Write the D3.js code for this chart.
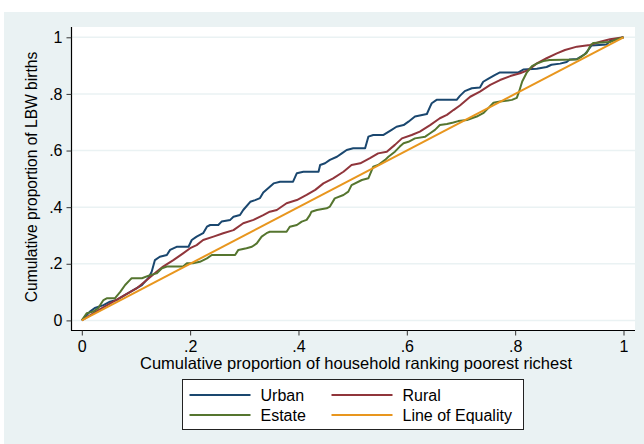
<!DOCTYPE html>
<html>
<head>
<meta charset="utf-8">
<script src="https://cdn.jsdelivr.net/npm/d3@7"></script>
<style>
  html, body { margin: 0; padding: 0; background: #ffffff; }
  svg { display: block; font-family: "Liberation Sans", Arial, sans-serif; }
</style>
</head>
<body>
<svg id="chart" width="644" height="444"></svg>
<script>
// Concentration curves: cumulative share of LBW births vs. cumulative household rank
const urbanCurve = [
  [0,0],[0.015,0.031],[0.024,0.044],[0.040,0.054],[0.052,0.066],[0.064,0.072],[0.080,0.090],
  [0.095,0.107],[0.111,0.125],[0.123,0.150],[0.129,0.172],[0.135,0.213],[0.144,0.225],[0.157,0.231],
  [0.163,0.249],[0.175,0.260],[0.197,0.260],[0.203,0.284],[0.212,0.296],[0.224,0.308],[0.231,0.331],
  [0.237,0.337],[0.252,0.337],[0.258,0.349],[0.274,0.355],[0.280,0.366],[0.292,0.372],[0.298,0.390],
  [0.311,0.419],[0.320,0.425],[0.329,0.432],[0.335,0.452],[0.344,0.467],[0.354,0.484],[0.366,0.490],
  [0.390,0.490],[0.397,0.520],[0.409,0.525],[0.437,0.525],[0.440,0.549],[0.449,0.555],[0.458,0.567],
  [0.471,0.578],[0.480,0.590],[0.489,0.602],[0.501,0.608],[0.523,0.608],[0.529,0.649],[0.538,0.655],
  [0.557,0.655],[0.572,0.673],[0.581,0.684],[0.594,0.690],[0.603,0.702],[0.615,0.720],[0.637,0.729],
  [0.643,0.755],[0.646,0.767],[0.655,0.779],[0.692,0.779],[0.698,0.793],[0.707,0.810],[0.720,0.820],
  [0.735,0.823],[0.741,0.843],[0.750,0.853],[0.763,0.867],[0.772,0.876],[0.806,0.876],[0.815,0.886],
  [0.840,0.889],[0.858,0.895],[0.867,0.903],[0.883,0.907],[0.895,0.913],[0.901,0.922],[0.914,0.923],
  [0.923,0.934],[0.929,0.941],[0.935,0.955],[0.941,0.971],[0.969,0.975],[0.975,0.987],[0.987,0.992],
  [1,1]
];

const ruralCurve = [
  [0,0],[0.034,0.040],[0.080,0.090],[0.101,0.113],[0.120,0.143],[0.138,0.172],[0.150,0.190],
  [0.169,0.213],[0.187,0.237],[0.200,0.255],[0.212,0.266],[0.224,0.284],[0.243,0.296],[0.261,0.308],
  [0.280,0.319],[0.298,0.343],[0.317,0.355],[0.335,0.372],[0.347,0.384],[0.360,0.390],[0.378,0.414],
  [0.397,0.425],[0.415,0.443],[0.431,0.461],[0.446,0.484],[0.464,0.502],[0.483,0.525],[0.498,0.549],
  [0.514,0.555],[0.532,0.573],[0.547,0.590],[0.563,0.596],[0.578,0.620],[0.591,0.643],[0.609,0.655],
  [0.624,0.667],[0.643,0.690],[0.661,0.714],[0.674,0.726],[0.686,0.743],[0.698,0.759],[0.717,0.790],
  [0.735,0.808],[0.754,0.832],[0.772,0.849],[0.791,0.863],[0.809,0.873],[0.824,0.884],[0.840,0.908],
  [0.858,0.926],[0.877,0.943],[0.892,0.955],[0.914,0.967],[0.938,0.973],[0.957,0.984],[0.975,0.993],
  [1,1]
];

const estateCurve = [
  [0,0],[0.009,0.025],[0.021,0.031],[0.030,0.043],[0.040,0.072],[0.046,0.078],[0.061,0.078],
  [0.071,0.101],[0.080,0.125],[0.089,0.143],[0.092,0.149],[0.111,0.149],[0.126,0.160],[0.138,0.166],
  [0.148,0.184],[0.157,0.190],[0.187,0.190],[0.194,0.202],[0.205,0.202],[0.218,0.207],[0.231,0.219],
  [0.240,0.231],[0.283,0.231],[0.289,0.249],[0.304,0.255],[0.314,0.260],[0.323,0.272],[0.332,0.296],
  [0.341,0.308],[0.347,0.313],[0.378,0.313],[0.384,0.331],[0.397,0.337],[0.406,0.349],[0.415,0.355],
  [0.421,0.372],[0.424,0.384],[0.434,0.390],[0.452,0.396],[0.458,0.402],[0.467,0.431],[0.483,0.443],
  [0.492,0.455],[0.498,0.478],[0.517,0.496],[0.529,0.502],[0.538,0.543],[0.547,0.549],[0.560,0.567],
  [0.566,0.578],[0.578,0.596],[0.587,0.614],[0.594,0.626],[0.603,0.631],[0.615,0.643],[0.634,0.649],
  [0.643,0.661],[0.652,0.673],[0.661,0.690],[0.674,0.694],[0.686,0.699],[0.695,0.704],[0.711,0.708],
  [0.729,0.720],[0.741,0.732],[0.750,0.749],[0.760,0.769],[0.772,0.773],[0.794,0.779],[0.803,0.786],
  [0.807,0.807],[0.813,0.844],[0.821,0.874],[0.831,0.898],[0.840,0.907],[0.852,0.916],[0.864,0.920],
  [0.914,0.922],[0.923,0.932],[0.932,0.945],[0.938,0.968],[0.944,0.980],[0.975,0.983],[0.987,0.993],
  [1,1]
];

const equalityLine = [[0,0],[1,1]];

const tickValues = [0, 0.2, 0.4, 0.6, 0.8, 1];
const tickLabels = ["0", ".2", ".4", ".6", ".8", "1"];

const seriesNames = ["Urban", "Rural", "Estate", "Line of Equality"];
const seriesColors = ["#1a476f", "#90353b", "#55752f", "#e8961e"];

const svg = d3.select("#chart");

// outer graph region and white plot region
svg.append("rect").attr("x", 4).attr("y", 12).attr("width", 640).attr("height", 432)
  .attr("fill", "#eaf2f3");
const plot = { left: 72, top: 27, right: 635, bottom: 330 };
svg.append("rect").attr("x", plot.left).attr("y", plot.top)
  .attr("width", plot.right - plot.left).attr("height", plot.bottom - plot.top)
  .attr("fill", "#ffffff");

const x = d3.scaleLinear().domain([0, 1]).range([81.8, 623.5]);
const y = d3.scaleLinear().domain([0, 1]).range([320.4, 37.3]);

// horizontal grid lines
svg.append("g").selectAll("line").data(tickValues).join("line")
  .attr("x1", plot.left).attr("x2", plot.right)
  .attr("y1", d => y(d)).attr("y2", d => y(d))
  .attr("stroke", "#eaf2f3").attr("stroke-width", 1.5);

// axes
const fmt = d => tickLabels[tickValues.indexOf(d)];
const yAxis = svg.append("g").attr("transform", `translate(${plot.left - 0.5},0)`)
  .call(d3.axisLeft(y).tickValues(tickValues).tickFormat(fmt).tickSize(5).tickSizeOuter(0).tickPadding(4));
const xAxis = svg.append("g").attr("transform", `translate(0,${plot.bottom + 0.5})`)
  .call(d3.axisBottom(x).tickValues(tickValues).tickFormat(fmt).tickSize(5).tickSizeOuter(0).tickPadding(5));

[xAxis, yAxis].forEach(g => {
  g.select(".domain").attr("stroke", "#000").attr("stroke-width", 1.2);
  g.selectAll(".tick line").attr("stroke", "#333").attr("stroke-width", 1);
  g.selectAll(".tick text").attr("fill", "#000").style("font-size", "16px")
    .style("font-family", "'Liberation Sans', Arial, sans-serif");
});
yAxis.select(".domain").attr("d", `M0,${plot.top}V${plot.bottom + 0.5}`);
xAxis.select(".domain").attr("d", `M${plot.left - 1},0H${plot.right}`);

// axis titles
svg.append("text").attr("x", 356).attr("y", 369).attr("text-anchor", "middle")
  .style("font-size", "16.5px").attr("fill", "#000")
  .text("Cumulative proportion of household ranking poorest richest");
svg.append("text").attr("transform", "translate(37,177) rotate(-90)").attr("text-anchor", "middle")
  .style("font-size", "15.6px").attr("fill", "#000")
  .text("Cumulative proportion of LBW births");

// curves
const line = d3.line().x(d => x(d[0])).y(d => y(d[1]));
const curves = [urbanCurve, ruralCurve, estateCurve];
curves.forEach((c, i) => {
  svg.append("path").datum(c).attr("d", line)
    .attr("fill", "none").attr("stroke", seriesColors[i]).attr("stroke-width", 2)
    .attr("stroke-linejoin", "round");
});
svg.append("path").datum(equalityLine).attr("d", line)
  .attr("fill", "none").attr("stroke", seriesColors[3]).attr("stroke-width", 2);

// legend
const legend = svg.append("g");
legend.append("rect").attr("x", 182.5).attr("y", 379.5).attr("width", 341).attr("height", 50)
  .attr("fill", "#ffffff").attr("stroke", "#222").attr("stroke-width", 1);
const legendPos = [
  { lx: 189.5, ty: 395 }, { lx: 331.5, ty: 395 },
  { lx: 189.5, ty: 415 }, { lx: 331.5, ty: 415 }
];
seriesNames.forEach((name, i) => {
  const p = legendPos[i];
  legend.append("line").attr("x1", p.lx).attr("x2", p.lx + 61)
    .attr("y1", p.ty).attr("y2", p.ty)
    .attr("stroke", seriesColors[i]).attr("stroke-width", 2);
  legend.append("text").attr("x", p.lx + 71).attr("y", p.ty + 5.5)
    .style("font-size", "16px").attr("fill", "#000").text(name);
});
</script>
</body>
</html>
